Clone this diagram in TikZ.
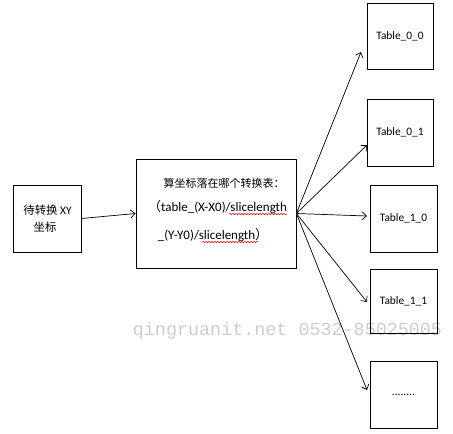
\documentclass[tikz,border=0pt]{standalone}
\usepackage{fontspec}
\setmainfont{Carlito}
\newfontfamily\cjk{Noto Sans CJK SC}
\newfontfamily\wmfont{Liberation Mono}
\usetikzlibrary{arrows.meta}
\usetikzlibrary{decorations.pathmorphing}
\tikzset{box/.style={draw, line width=0.8pt, inner sep=0pt},
  link/.style={-{Straight Barb[length=4.5pt,width=8pt]}, line width=0.7pt},
  spell/.style={red, line width=0.5pt, decorate,
    decoration={snake, amplitude=0.7pt, segment length=3pt}}}
\newcommand{\tabfont}{\fontsize{11.4}{13}\selectfont}
\newcommand{\calcfont}{\fontsize{13}{15}\selectfont}
\begin{document}
\begin{tikzpicture}[x=1pt, y=-1pt]
      \useasboundingbox (0, 0) rectangle (453, 434);

      % watermark
      \node [text=gray!40, font=\wmfont\fontsize{18.4}{20}\selectfont] (mark) at (287.5, 331) {qingruanit.net 0532-85025005};

      \node [box, minimum width=68pt, minimum height=67pt] (src) at (47, 218.5) {};
      \node [font=\tabfont] (src1) at (47.5, 210) {\cjk 待转换 \rmfamily XY};
      \node [font=\tabfont] (src2) at (45, 227) {\cjk 坐标};

      \node [box, minimum width=160pt, minimum height=109pt] (calc) at (216, 213.5) {};
      \node [font=\cjk\fontsize{11}{13}\selectfont] (calc1) at (224, 183) {算坐标落在哪个转换表：};
      \node [font=\calcfont] (calc2) at (217.5, 207) {{\cjk （}table\_(X-X0)/slicelength};
      \node [font=\calcfont] (calc3) at (213, 235) {\_(Y-Y0)/slicelength{\cjk ）}};
      \draw [spell] (229, 214) -- (287, 214);
      \draw [spell] (202, 242) -- (258, 242);

      \node [box, minimum width=66pt, minimum height=66pt, font=\tabfont] (t00) at (400, 36) {Table\_0\_0};
      \node [box, minimum width=66pt, minimum height=67pt, font=\tabfont] (t01) at (400, 132.5) {Table\_0\_1};
      \node [box, minimum width=67pt, minimum height=67pt, font=\tabfont] (t10) at (403.5, 218.5) {Table\_1\_0};
      \node [box, minimum width=67pt, minimum height=64pt, font=\tabfont] (t11) at (403.5, 301) {Table\_1\_1};
      \node [box, minimum width=67pt, minimum height=67pt, font=\tabfont] (tdots) at (403.5, 394.5) {........};

      \coordinate (e00) at (361, 52);
      \coordinate (e01) at (367, 145);
      \coordinate (e10) at (367, 216);
      \coordinate (e11) at (367, 302);
      \coordinate (edots) at (367, 390);

      \draw [link] (src.east) -- (calc.west);
      \draw [link] (calc.east) -- (e00);
      \draw [link] (calc.east) -- (e01);
      \draw [link] (calc.east) -- (e10);
      \draw [link] (calc.east) -- (e11);
      \draw [link] (calc.east) -- (edots);
    \end{tikzpicture}
\end{document}
